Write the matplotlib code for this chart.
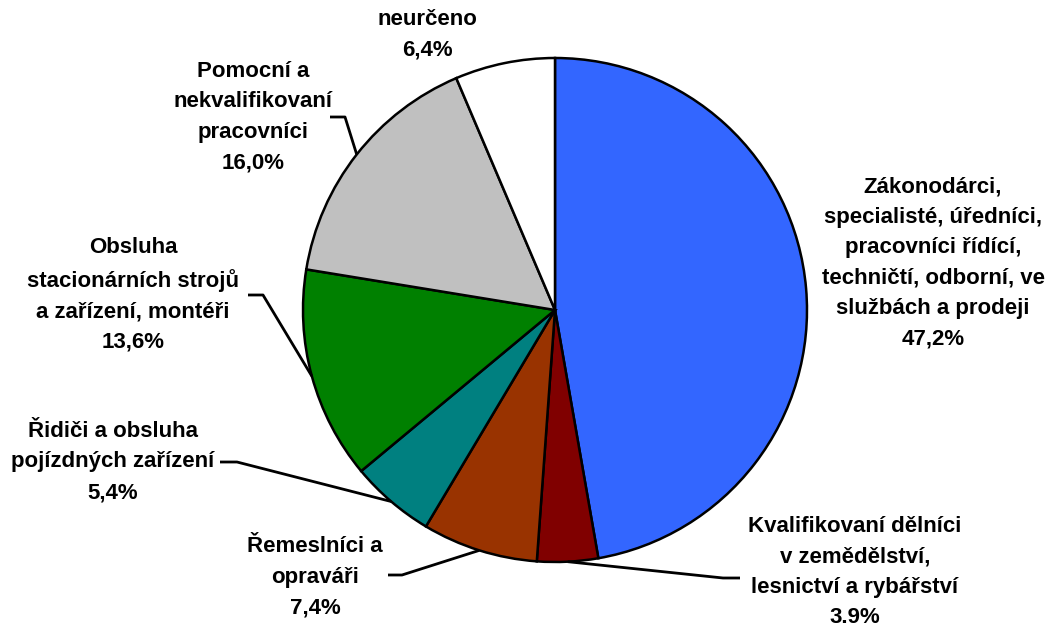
import matplotlib
matplotlib.use('Agg')
import matplotlib.pyplot as plt
import numpy as np

plt.rcParams['font.family'] = ['Liberation Sans', 'DejaVu Sans']

labels = ['Zákonodárci,\nspecialisté, úředníci,\npracovníci řídící,\ntechničtí, odborní, ve\nslužbách a prodeji',
          'Kvalifikovaní dělníci\nv zemědělství,\nlesnictví a rybářství',
          'Řemeslníci a\nopraváři',
          'Řidiči a obsluha\npojízdných zařízení',
          'Obsluha\nstacionárních strojů\na zařízení, montéři',
          'Pomocní a\nnekvalifikovaní\npracovníci',
          'neurčeno']
pct_text = ['47,2%', '3.9%', '7,4%', '5,4%', '13,6%', '16,0%', '6,4%']
values = [47.2, 3.9, 7.4, 5.4, 13.6, 16.0, 6.4]
colors = ['#3366FF', '#800000', '#993300', '#008080', '#008000', '#C0C0C0', '#FFFFFF']

W, H = 1052, 630
cx, cy, r = 555, 310, 252

fig = plt.figure(figsize=(W / 100, H / 100), dpi=100)
ax = fig.add_axes([0, 0, 1, 1])


def py(y):
    return H - y


wedges, _ = ax.pie(values, colors=colors, startangle=90, counterclock=False,
                   center=(cx, py(cy)), radius=r, frame=True,
                   wedgeprops=dict(edgecolor='black', linewidth=1.8))
ax.set_xlim(0, W)
ax.set_ylim(0, H)
ax.set_aspect('equal')
ax.axis('off')

# label block centres (pixels) and leader line knees
pos = [(933, 263), (855, 572), (315, 577), (113, 462), (133, 295), (253, 117), (427, 35)]
leaders = {
    1: [(740, 578), (723, 578)],
    2: [(388, 575), (402, 575)],
    3: [(220, 462), (237, 462)],
    4: [(248, 295), (263, 295)],
    5: [(330, 117), (345, 117)],
}

for i, w in enumerate(wedges):
    txt = labels[i] + '\n' + pct_text[i]
    x, y = pos[i]
    ax.text(x, py(y), txt, ha='center', va='center', fontsize=16, fontweight='bold',
            linespacing=1.6, color='black')
    if i in leaders:
        ang = np.deg2rad((w.theta1 + w.theta2) / 2)
        ex = cx + r * np.cos(ang)
        ey = py(cy) + r * np.sin(ang)
        pts = leaders[i]
        xs = [p[0] for p in pts] + [ex]
        ys = [py(p[1]) for p in pts] + [ey]
        ax.plot(xs, ys, color='black', linewidth=2, solid_capstyle='butt')

fig.savefig('out.png', dpi=100)
